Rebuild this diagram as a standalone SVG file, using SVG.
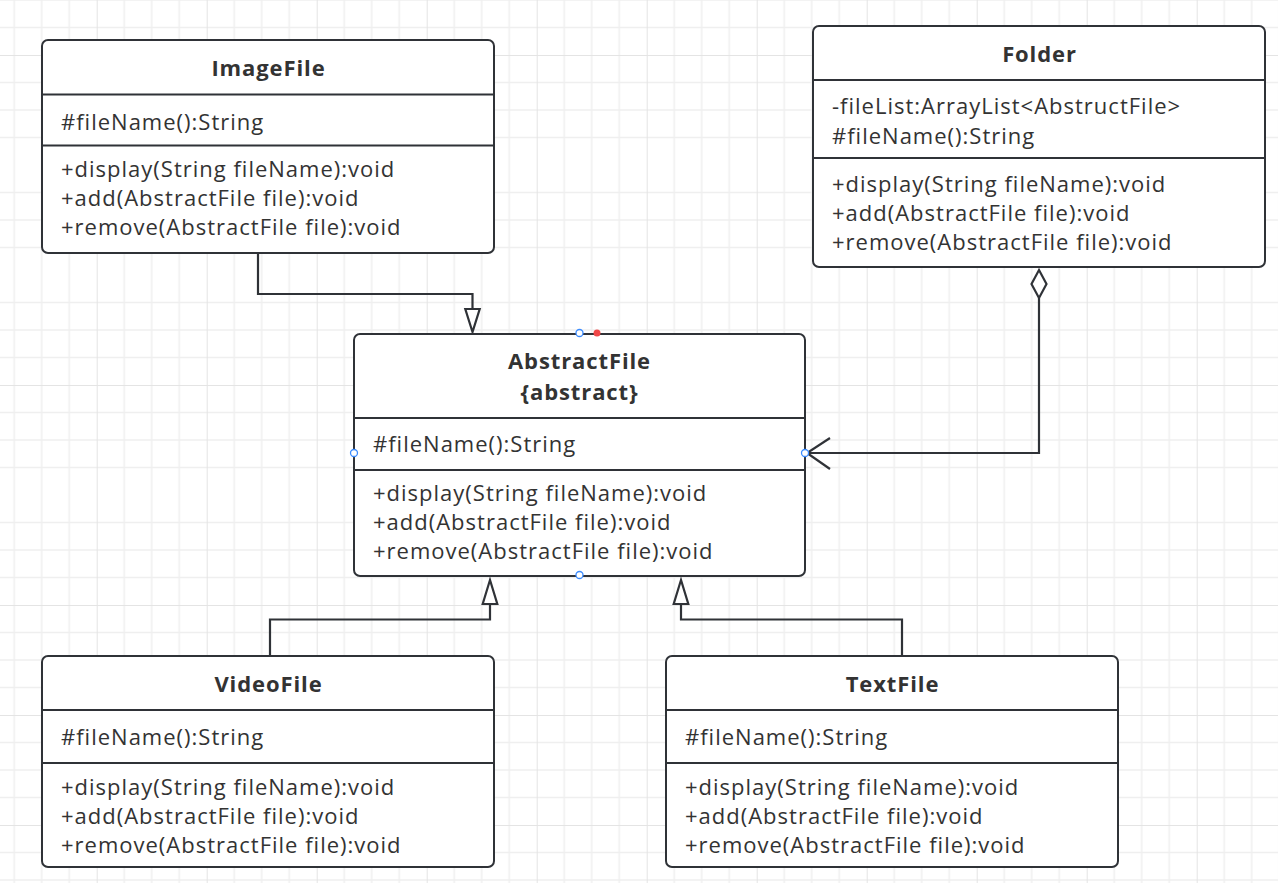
<svg xmlns="http://www.w3.org/2000/svg" width="1278" height="883" viewBox="0 0 1278 883">
<defs>
<pattern id="grid" patternUnits="userSpaceOnUse" x="-13.3" y="55" width="110" height="110">
<path d="M27.5 0V110M55 0V110M82.5 0V110M0 27.5H110M0 55H110M0 82.5H110" stroke="#efefef" stroke-width="1.5" fill="none"/>
<path d="M0 0V110M0 0H110" stroke="#e4e4e4" stroke-width="2" fill="none"/>
</pattern>
</defs>
<style>
.box{fill:#fff;stroke:#2f3237;stroke-width:2}
.div{stroke:#2f3237;stroke-width:2}
text{font-family:"Open Sans","Noto Sans",sans-serif;font-size:22px;letter-spacing:1px;fill:#333}
.t{font-weight:bold;text-anchor:middle;letter-spacing:0.9px}
.edge{fill:none;stroke:#2f3237;stroke-width:2.2}
.head{fill:#fff;stroke:#2f3237;stroke-width:2.2}
.hb{fill:#fff;stroke:#3c8cff;stroke-width:1.3}
</style>
<rect width="1278" height="883" fill="#fff"/>
<rect width="1278" height="883" fill="url(#grid)"/>

<g id="connectors">
<path class="edge" d="M258 253V294H472.5V309"/>
<path class="head" d="M472.5 332L465.3 309H479.7Z"/>
<path class="edge" d="M270 656V619.5H490V604"/>
<path class="head" d="M490 580L482.7 604H497.3Z"/>
<path class="edge" d="M902 656V619.5H681V604"/>
<path class="head" d="M681 580L673.7 604H688.3Z"/>
<path class="edge" d="M1039 298V453H806"/>
<path class="head" d="M1039 270L1046.5 284L1039 298L1031.5 284Z"/>
<path class="edge" d="M830 438L807 453L830 469"/>
</g>

<g id="ImageFile">
<rect class="box" x="42" y="40" width="452" height="213" rx="6"/>
<line class="div" x1="42" y1="94.5" x2="494" y2="94.5"/>
<line class="div" x1="42" y1="145.5" x2="494" y2="145.5"/>
<text class="t" x="268.5" y="76">ImageFile</text>
<text x="61" y="130">#fileName():String</text>
<text x="61" y="177">+display(String fileName):void</text>
<text x="61" y="206">+add(AbstractFile file):void</text>
<text x="61" y="235">+remove(AbstractFile file):void</text>
</g>

<g id="Folder">
<rect class="box" x="813" y="26" width="452" height="241" rx="6"/>
<line class="div" x1="813" y1="80" x2="1265" y2="80"/>
<line class="div" x1="813" y1="158" x2="1265" y2="158"/>
<text class="t" x="1039.5" y="62">Folder</text>
<text x="832" y="114">-fileList:ArrayList&lt;AbstructFile&gt;</text>
<text x="832" y="144">#fileName():String</text>
<text x="832" y="192">+display(String fileName):void</text>
<text x="832" y="221">+add(AbstractFile file):void</text>
<text x="832" y="250">+remove(AbstractFile file):void</text>
</g>

<g id="AbstractFile">
<rect class="box" x="354" y="334" width="451" height="242" rx="6"/>
<line class="div" x1="354" y1="418" x2="805" y2="418"/>
<line class="div" x1="354" y1="470" x2="805" y2="470"/>
<text class="t" x="579.5" y="369">AbstractFile</text>
<text class="t" x="579.5" y="400">{abstract}</text>
<text x="373" y="452">#fileName():String</text>
<text x="373" y="501">+display(String fileName):void</text>
<text x="373" y="530">+add(AbstractFile file):void</text>
<text x="373" y="559">+remove(AbstractFile file):void</text>
</g>

<g id="VideoFile">
<rect class="box" x="42" y="656" width="452" height="211" rx="6"/>
<line class="div" x1="42" y1="710" x2="494" y2="710"/>
<line class="div" x1="42" y1="763" x2="494" y2="763"/>
<text class="t" x="268.5" y="692">VideoFile</text>
<text x="61" y="745">#fileName():String</text>
<text x="61" y="795">+display(String fileName):void</text>
<text x="61" y="824">+add(AbstractFile file):void</text>
<text x="61" y="853">+remove(AbstractFile file):void</text>
</g>

<g id="TextFile">
<rect class="box" x="666" y="656" width="452" height="211" rx="6"/>
<line class="div" x1="666" y1="710" x2="1118" y2="710"/>
<line class="div" x1="666" y1="763" x2="1118" y2="763"/>
<text class="t" x="892.5" y="692">TextFile</text>
<text x="685" y="745">#fileName():String</text>
<text x="685" y="795">+display(String fileName):void</text>
<text x="685" y="824">+add(AbstractFile file):void</text>
<text x="685" y="853">+remove(AbstractFile file):void</text>
</g>

<g id="handles">
<circle class="hb" cx="579.5" cy="333" r="3.5"/>
<circle cx="597" cy="333" r="3.5" fill="#f04848"/>
<circle class="hb" cx="354" cy="453" r="3.5"/>
<circle class="hb" cx="805" cy="453" r="3.5"/>
<circle class="hb" cx="579.5" cy="575" r="3.5"/>
</g>
</svg>
